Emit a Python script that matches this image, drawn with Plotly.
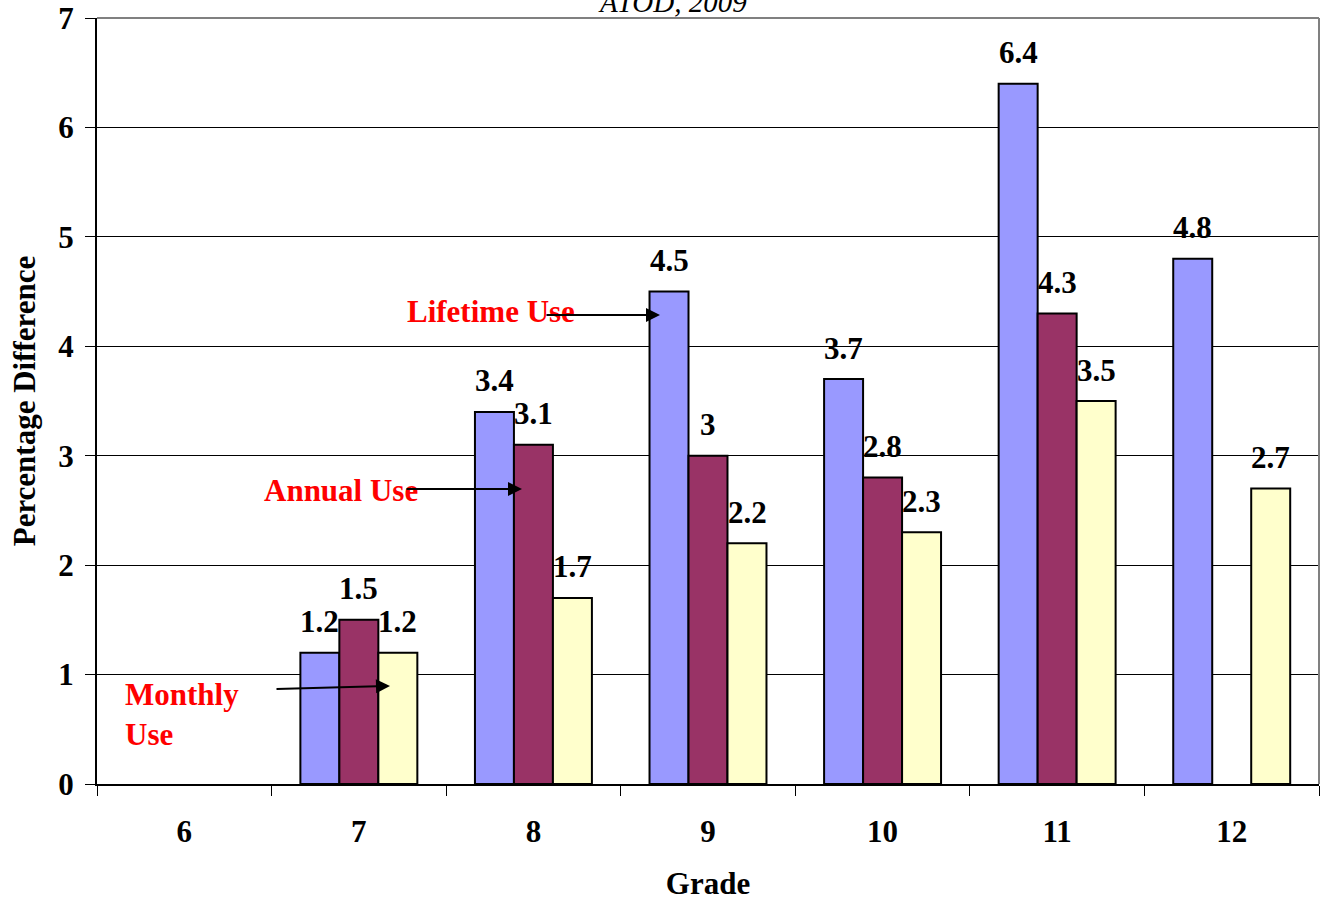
import plotly.graph_objects as go

grades = ["6", "7", "8", "9", "10", "11", "12"]
lifetime_use = [None, 1.2, 3.4, 4.5, 3.7, 6.4, 4.8]
annual_use = [None, 1.5, 3.1, 3.0, 2.8, 4.3, None]
monthly_use = [None, 1.2, 1.7, 2.2, 2.3, 3.5, 2.7]

series_names = ["Lifetime Use", "Annual Use", "Monthly Use"]
series_values = [lifetime_use, annual_use, monthly_use]
series_colors = ["#9999FF", "#993366", "#FFFFCC"]

font_family = "Liberation Serif, Times New Roman, serif"

fig = go.Figure()

#One bar trace per use type
for name, values, color in zip(series_names, series_values, series_colors):
    fig.add_trace(go.Bar(x=grades, y=values, name=name, marker_color=color,
                         marker_line_color="black", marker_line_width=2))

#Value labels sitting above each bar (Excel style), x is the category index
for i, values in enumerate(series_values):
    for k, v in enumerate(values):
        if v is None:
            continue
        fig.add_annotation(x=k, y=v, xref="x", yref="y", text="<b>{:g}</b>".format(v),
                           showarrow=False, xshift=(i - 1) * 39, yshift=31,
                           font=dict(family=font_family, size=31, color="black"))

#Red callouts with arrows (positions in paper units from the plot area pixels)
def px_x(p):
    return (p - 97) / 1222.0

def px_y(p):
    return (784 - p) / 766.0

red_font = dict(family=font_family, size=31, color="red")
fig.add_annotation(x=px_x(491), y=px_y(311), xref="paper", yref="paper", text="<b>Lifetime Use</b>",
                   showarrow=False, font=red_font, xanchor="center", yanchor="middle")
fig.add_annotation(x=px_x(660), y=px_y(315), xref="paper", yref="paper", text="",
                   showarrow=True, arrowhead=2, arrowsize=1.4, arrowwidth=2, arrowcolor="black", ax=-115, ay=0)
fig.add_annotation(x=px_x(341), y=px_y(490), xref="paper", yref="paper", text="<b>Annual Use</b>",
                   showarrow=False, font=red_font, xanchor="center", yanchor="middle")
fig.add_annotation(x=px_x(522), y=px_y(489), xref="paper", yref="paper", text="",
                   showarrow=True, arrowhead=2, arrowsize=1.4, arrowwidth=2, arrowcolor="black", ax=-117, ay=0)
fig.add_annotation(x=px_x(123), y=px_y(714), xref="paper", yref="paper", text="<b>Monthly<br>Use</b>",
                   showarrow=False, font=red_font, xanchor="left", yanchor="middle", align="left")
fig.add_annotation(x=px_x(390), y=px_y(686), xref="paper", yref="paper", text="",
                   showarrow=True, arrowhead=2, arrowsize=1.4, arrowwidth=2, arrowcolor="black", ax=-115, ay=3)

#Title, cut off at the top like the original
fig.add_annotation(x=0.5, y=1.0, xref="paper", yref="paper", text="<i>ATOD, 2009</i>",
                   showarrow=False, xanchor="center", yanchor="bottom", xshift=-36, yshift=-2,
                   font=dict(family=font_family, size=29, color="black"))

#Gray plot border on top and right
fig.add_shape(type="line", xref="paper", yref="paper", x0=0, x1=1, y0=1, y1=1,
              line=dict(color="#808080", width=2))
fig.add_shape(type="line", xref="paper", yref="paper", x0=1, x1=1, y0=0, y1=1,
              line=dict(color="#808080", width=2))

fig.update_layout(
    width=1327, height=901,
    margin=dict(l=97, r=8, t=18, b=117),
    paper_bgcolor="white", plot_bgcolor="white",
    barmode="group", bargap=0.33, bargroupgap=0,
    showlegend=False,
    font=dict(family=font_family, size=31, color="black"),
)
fig.update_xaxes(type="category", range=[-0.5, 6.5], automargin=False,
                 tickson="boundaries", ticks="outside", ticklen=10, tickwidth=1,
                 tickcolor="black", showline=True, linecolor="black", linewidth=2,
                 tickfont=dict(size=31, family=font_family), showgrid=False,
                 ticklabelstandoff=19, ticklabeloverflow="allow",
                 tickvals=grades, ticktext=["<b>" + g + "</b>" for g in grades],
                 title=dict(text="<b>Grade</b>", font=dict(size=31, family=font_family), standoff=28))
fig.update_yaxes(range=[0, 7], dtick=1, automargin=False, ticks="outside", ticklen=10, tickwidth=1,
                 tickcolor="black", showline=True, linecolor="black", linewidth=2, showgrid=True,
                 gridcolor="black", gridwidth=1, zeroline=False, tickfont=dict(size=31, family=font_family),
                 ticklabelstandoff=5, ticklabeloverflow="allow",
                 tickvals=[0, 1, 2, 3, 4, 5, 6, 7], ticktext=["<b>%d</b>" % v for v in range(8)],
                 title=dict(text="<b>Percentage Difference</b>", font=dict(size=31, family=font_family),
                            standoff=13))

#drop the page's default 8px body margin so the figure sits at the corner
fig.write_html("out.html", config={"displayModeBar": False},
               post_script="document.body.style.margin='0';")
